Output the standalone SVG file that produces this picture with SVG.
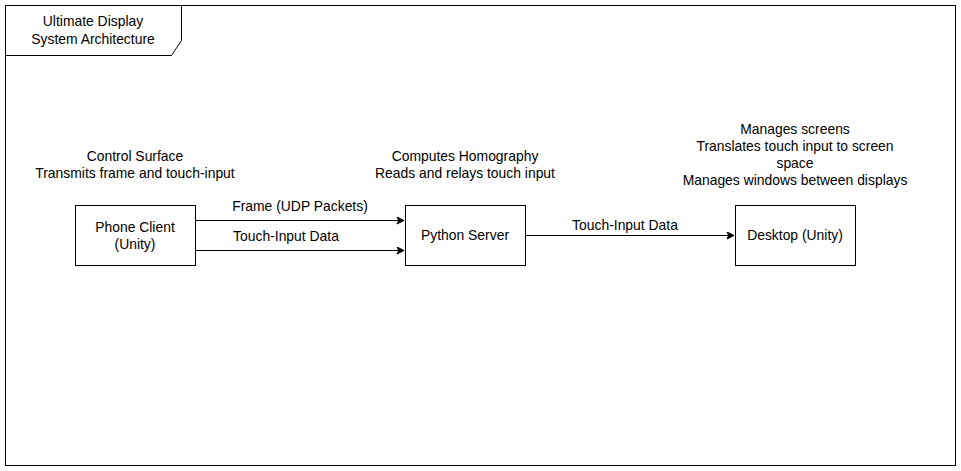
<svg xmlns="http://www.w3.org/2000/svg" width="961" height="471" viewBox="0 0 961 471">
<style>
.box{fill:#fff;stroke:#000;stroke-width:1}
.t{font-family:"Liberation Sans",Arial,sans-serif;font-size:13.9px;fill:#000;text-anchor:middle}
.edge{fill:none;stroke:#000;stroke-width:1}
</style>
<defs>
<marker id="arr" markerWidth="10" markerHeight="10" refX="8" refY="4" orient="auto" markerUnits="userSpaceOnUse">
<path d="M1,0.5 L8,4 L1,7.5 L2.8,4 Z" fill="#000" stroke="#000" stroke-width="1"/>
</marker>
</defs>
<rect width="961" height="471" fill="#fff"/>
<g id="frame">
<rect x="5.5" y="5.5" width="950" height="460" fill="none" stroke="#000"/>
<path d="M5.5,5.5 H181.5 V40.5 L171.5,55.5 H5.5 Z" fill="#fff" stroke="#000"/>
<text class="t" x="93" y="26">Ultimate Display</text>
<text class="t" x="93" y="44">System Architecture</text>
</g>
<g id="connectors">
<path class="edge" d="M195.5,220.5 H404" marker-end="url(#arr)"/>
<path class="edge" d="M195.5,250.5 H404" marker-end="url(#arr)"/>
<path class="edge" d="M525.5,235.5 H734" marker-end="url(#arr)"/>
<text class="t" x="300" y="211">Frame (UDP Packets)</text>
<text class="t" x="286" y="241">Touch-Input Data</text>
<text class="t" x="625" y="230">Touch-Input Data</text>
</g>
<g id="phone">
<rect class="box" x="75.5" y="205.5" width="120" height="60"/>
<text class="t" x="135" y="232">Phone Client</text>
<text class="t" x="135" y="249">(Unity)</text>
</g>
<g id="phone-note">
<text class="t" x="135" y="161">Control Surface</text>
<text class="t" x="135" y="178">Transmits frame and touch-input</text>
</g>
<g id="server">
<rect class="box" x="405.5" y="205.5" width="120" height="60"/>
<text class="t" x="465" y="240">Python Server</text>
</g>
<g id="server-note">
<text class="t" x="465" y="161">Computes Homography</text>
<text class="t" x="465" y="178">Reads and relays touch input</text>
</g>
<g id="desktop">
<rect class="box" x="735.5" y="205.5" width="120" height="60"/>
<text class="t" x="795" y="240">Desktop (Unity)</text>
</g>
<g id="desktop-note">
<text class="t" x="795" y="134">Manages screens</text>
<text class="t" x="795" y="151">Translates touch input to screen</text>
<text class="t" x="795" y="168">space</text>
<text class="t" x="795" y="185">Manages windows between displays</text>
</g>
</svg>
